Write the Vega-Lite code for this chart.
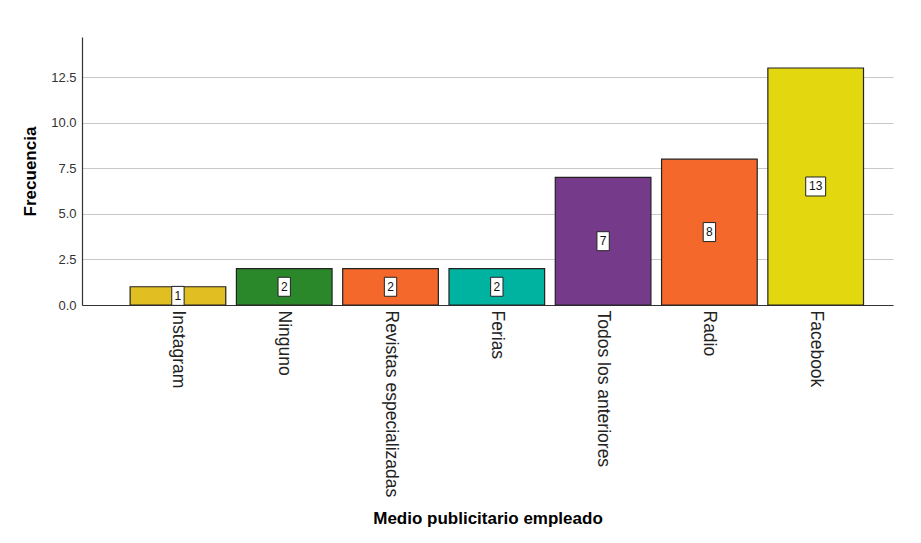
{
  "$schema": "https://vega.github.io/schema/vega-lite/v6.json",
  "width": 811,
  "height": 268,
  "autosize": "none",
  "padding": {"left": 82, "top": 37, "right": 28, "bottom": 238},
  "background": "white",
  "config": {"view": {"stroke": null}, "font": "Liberation Sans"},
  "data": {"values": [
    {"medio": "Instagram", "n": 1},
    {"medio": "Ninguno", "n": 2},
    {"medio": "Revistas especializadas", "n": 2},
    {"medio": "Ferias", "n": 2},
    {"medio": "Todos los anteriores", "n": 7},
    {"medio": "Radio", "n": 8},
    {"medio": "Facebook", "n": 13}
  ]},
  "encoding": {
    "x": {
      "field": "medio", "type": "nominal", "sort": null,
      "scale": {"paddingInner": 0.1, "paddingOuter": 0.365, "align": 0.62},
      "axis": {
        "title": "Medio publicitario empleado",
        "titleFont": "Liberation Sans", "titleFontSize": 17, "titleFontWeight": "bold", "titleColor": "#000",
        "titlePadding": 14,
        "labelAngle": 90, "labelAlign": "left", "labelBaseline": "middle", "labelLimit": 0,
        "labelFont": "Liberation Sans", "labelFontSize": 17.5, "labelColor": "#222", "labelPadding": 5,
        "ticks": false, "domainColor": "#333", "domainWidth": 1.2, "grid": false
      }
    }
  },
  "layer": [
    {
      "mark": {"type": "bar", "stroke": "#222", "strokeWidth": 1.2},
      "encoding": {
        "y": {
          "field": "n", "type": "quantitative",
          "scale": {"domain": [0, 14.7], "nice": false},
          "axis": {
            "title": "Frecuencia", "values": [0, 2.5, 5, 7.5, 10, 12.5], "format": ".1f",
            "titleFont": "Liberation Sans", "titleFontSize": 17, "titleFontWeight": "bold", "titleColor": "#000",
            "titlePadding": 11,
            "labelFont": "Liberation Sans", "labelFontSize": 13, "labelColor": "#333", "labelPadding": 6,
            "ticks": false, "domainColor": "#333", "domainWidth": 1.2,
            "grid": true, "gridColor": "#c8c8c8", "gridWidth": 1.2
          }
        },
        "color": {
          "field": "medio", "type": "nominal", "legend": null,
          "scale": {
            "domain": ["Instagram", "Ninguno", "Revistas especializadas", "Ferias", "Todos los anteriores", "Radio", "Facebook"],
            "range": ["#E1BE22", "#2A882A", "#F4692B", "#00B3A0", "#763A8B", "#F4692B", "#E3D80F"]
          }
        }
      }
    },
    {
      "layer": [
        {
          "mark": {"type": "point", "filled": true, "fill": "white", "stroke": "#222", "strokeWidth": 1, "opacity": 1, "size": 361},
          "encoding": {
            "y": {"field": "n", "type": "quantitative", "scale": {"domain": [0, 29.4], "nice": false}, "axis": null},
            "shape": {
              "condition": {"test": "datum.n >= 10", "value": "M-1.05,-1H1.05V1H-1.05Z"},
              "value": "M-0.65,-1H0.65V1H-0.65Z"
            }
          }
        },
        {
          "mark": {"type": "text", "font": "Liberation Sans", "fontSize": 12, "color": "#111", "baseline": "middle"},
          "encoding": {
            "y": {"field": "n", "type": "quantitative", "scale": {"domain": [0, 29.4], "nice": false}, "axis": null},
            "text": {"field": "n", "type": "quantitative"}
          }
        }
      ]
    }
  ],
  "resolve": {"scale": {"y": "independent"}}
}
